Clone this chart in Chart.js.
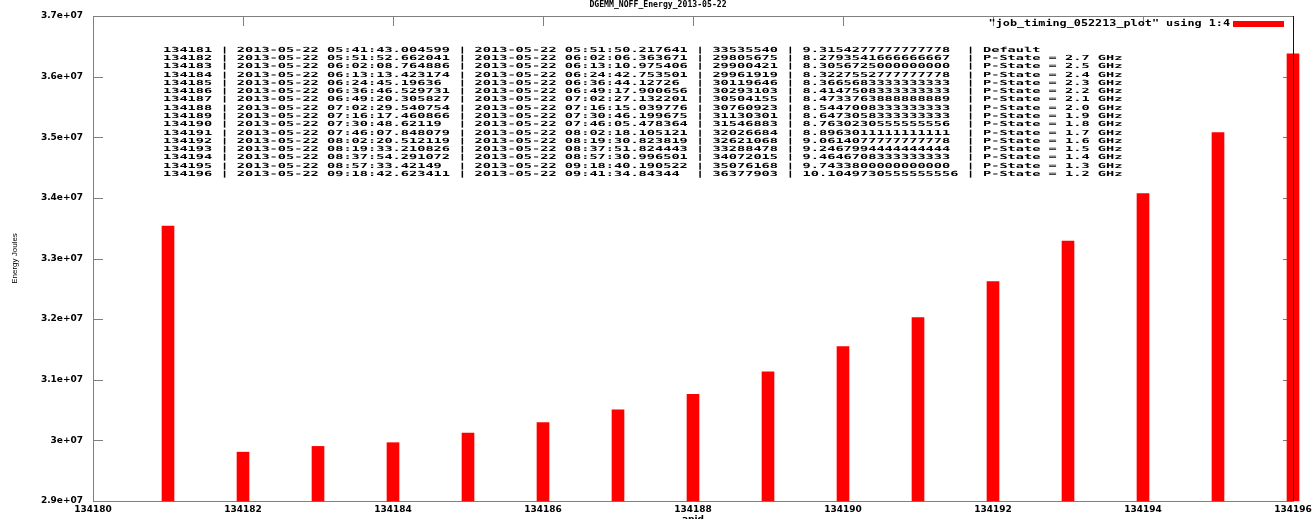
<!DOCTYPE html>
<html>
<head>
<meta charset="utf-8">
<title>DGEMM_NOFF_Energy_2013-05-22</title>
<script src="https://cdn.jsdelivr.net/npm/chart.js@4"></script>
<style>
  html, body { margin: 0; padding: 0; background: #fff; }
  #wrap { width: 1316px; height: 519px; }
</style>
</head>
<body>
<div id="wrap"><canvas id="energyChart"></canvas></div>
<script>
const apids = [134181, 134182, 134183, 134184, 134185, 134186, 134187, 134188,
               134189, 134190, 134191, 134192, 134193, 134194, 134195, 134196];
const energyJoules = [33535540, 29805675, 29900421, 29961919, 30119646, 30293103, 30504155, 30760923,
                      31130301, 31546883, 32026684, 32621068, 33288478, 34072015, 35076168, 36377903];
const startTimes = ['05:41:43.004599', '05:51:52.662041', '06:02:08.764886', '06:13:13.423174',
                    '06:24:45.19636', '06:36:46.529731', '06:49:20.305827', '07:02:29.540754',
                    '07:16:17.460866', '07:30:48.62119', '07:46:07.848079', '08:02:20.512119',
                    '08:19:33.210826', '08:37:54.291072', '08:57:33.42149', '09:18:42.623411'];
const endTimes = ['05:51:50.217641', '06:02:06.363671', '06:13:10.975406', '06:24:42.753501',
                  '06:36:44.12726', '06:49:17.900656', '07:02:27.132201', '07:16:15.039776',
                  '07:30:46.199675', '07:46:05.478364', '08:02:18.105121', '08:19:30.823819',
                  '08:37:51.824443', '08:57:30.996501', '09:18:40.190522', '09:41:34.84344'];
const avgValues = ['9.3154277777777778', '8.2793541666666667', '8.3056725000000000', '8.3227552777777778',
                   '8.3665683333333333', '8.4147508333333333', '8.4733763888888889', '8.5447008333333333',
                   '8.6473058333333333', '8.7630230555555556', '8.8963011111111111', '9.0614077777777778',
                   '9.2467994444444444', '9.4646708333333333', '9.7433800000000000', '10.1049730555555556'];
const pStates = ['Default', 'P-State = 2.7 GHz', 'P-State = 2.5 GHz', 'P-State = 2.4 GHz',
                 'P-State = 2.3 GHz', 'P-State = 2.2 GHz', 'P-State = 2.1 GHz', 'P-State = 2.0 GHz',
                 'P-State = 1.9 GHz', 'P-State = 1.8 GHz', 'P-State = 1.7 GHz', 'P-State = 1.6 GHz',
                 'P-State = 1.5 GHz', 'P-State = 1.4 GHz', 'P-State = 1.3 GHz', 'P-State = 1.2 GHz'];
const runDate = '2013-05-22';
const xTickLabels = ['134180', '134182', '134184', '134186', '134188', '134190', '134192', '134194', '134196'];
const yTickLabels = ['2.9e+07', '3e+07', '3.1e+07', '3.2e+07', '3.3e+07', '3.4e+07', '3.5e+07', '3.6e+07', '3.7e+07'];
const chartTitle = 'DGEMM_NOFF_Energy_2013-05-22';
const legendLabel = '"job_timing_052213_plot" using 1:4';

const yMin = 29000000;
const yMax = 37000000;
const frameColor = '#7f7f7f';
const monoFont = '"DejaVu Sans Mono", "Liberation Mono", monospace';

// table rows, laid out like the psql output pasted into the plot
const tableRows = apids.map((id, i) =>
    String(id) + ' | ' +
    (runDate + ' ' + startTimes[i]).padEnd(26) + ' | ' +
    (runDate + ' ' + endTimes[i]).padEnd(26) + ' | ' +
    String(energyJoules[i]).padEnd(8) + ' | ' +
    avgValues[i].padEnd(19) + ' | ' + pStates[i]
);

// draws text stretched so each char takes charW pixels (gnuplot's wide bitmap font)
function wideText(ctx, text, x, y, charW, align) {
    const w = ctx.measureText('0').width;
    const sx = charW / w;
    ctx.save();
    ctx.translate(x, y);
    ctx.scale(sx, 1);
    ctx.textAlign = align || 'left';
    ctx.fillText(text, 0, 0);
    ctx.restore();
}

const gnuplotFrame = {
    id: 'gnuplotFrame',
    beforeDatasetsDraw(chart) {
        const { ctx, chartArea: a, scales: { x, y } } = chart;
        ctx.save();
        ctx.strokeStyle = frameColor;
        ctx.lineWidth = 1;
        ctx.beginPath();
        ctx.rect(a.left + 0.5, a.top + 0.5, a.right - a.left, a.bottom - a.top);
        // inward tick marks on all four sides
        y.ticks.forEach(t => {
            const py = Math.round(y.getPixelForValue(t.value)) + 0.5;
            ctx.moveTo(a.left, py); ctx.lineTo(a.left + 10, py);
            ctx.moveTo(a.right, py); ctx.lineTo(a.right - 10, py);
        });
        x.ticks.forEach(t => {
            const px = Math.round(x.getPixelForValue(t.value)) + 0.5;
            ctx.moveTo(px, a.top); ctx.lineTo(px, a.top + 10);
            ctx.moveTo(px, a.bottom); ctx.lineTo(px, a.bottom - 10);
        });
        ctx.stroke();
        ctx.restore();
    },
    afterDatasetsDraw(chart) {
        const { ctx, chartArea: a } = chart;
        ctx.save();
        ctx.strokeStyle = '#400000';
        ctx.beginPath();
        ctx.moveTo(a.right + 0.5, a.top);
        ctx.lineTo(a.right + 0.5, a.bottom);
        ctx.stroke();

        ctx.fillStyle = '#000';
        ctx.textBaseline = 'middle';

        // title
        ctx.font = 'bold 8px ' + monoFont;
        wideText(ctx, chartTitle, chart.width / 2, 5, 4.9, 'center');

        // key
        wideText(ctx, legendLabel, 1230, 24, 7.1, 'right');
        ctx.fillStyle = chart.data.datasets[0].backgroundColor;
        ctx.fillRect(1233, 21, 51, 6);

        // data table
        ctx.fillStyle = '#000';
        ctx.font = 'bold 7px ' + monoFont;
        tableRows.forEach((row, i) => {
            wideText(ctx, row, 163, 50 + i * 8.27, 8.2, 'left');
        });
        ctx.restore();
    }
};

const ctx = document.getElementById('energyChart');

new Chart(ctx, {
    type: 'bar',
    data: {
        datasets: [{
            label: legendLabel,
            data: apids.map((id, i) => ({ x: id, y: energyJoules[i] })),
            backgroundColor: '#ff0000',
            borderWidth: 0,
            barThickness: 12,
            base: yMin,
            clip: false
        }]
    },
    options: {
        responsive: true,
        maintainAspectRatio: false,
        animation: false,
        layout: { padding: { top: 16, right: 23, left: 0, bottom: 0 } },
        plugins: {
            legend: { display: false },
            tooltip: { enabled: false },
            title: { display: false }
        },
        scales: {
            x: {
                type: 'linear',
                min: 134180,
                max: 134196,
                offset: false,
                grid: { display: false, drawTicks: false, offset: false },
                border: { display: false },
                ticks: {
                    stepSize: 2,
                    padding: 3,
                    color: '#000',
                    font: { family: '"DejaVu Sans"', size: 9, weight: 'bold' },
                    maxRotation: 0,
                    callback: (v) => xTickLabels[(v - 134180) / 2]
                },
                title: {
                    display: true,
                    text: 'apid',
                    color: '#000',
                    font: { family: '"DejaVu Sans"', size: 9, weight: 'bold' },
                    padding: { top: 0, bottom: -6 }
                },
                afterFit: (s) => { s.height = 18; }
            },
            y: {
                min: yMin,
                max: yMax,
                beginAtZero: false,
                grid: { display: false, drawTicks: false },
                border: { display: false },
                ticks: {
                    stepSize: 1000000,
                    padding: 10,
                    color: '#000',
                    font: { family: '"DejaVu Sans"', size: 9, weight: 'bold' },
                    callback: (v) => yTickLabels[Math.round((v - yMin) / 1000000)]
                },
                title: {
                    display: true,
                    text: 'Energy Joules',
                    color: '#000',
                    font: { family: '"Liberation Sans"', size: 8 },
                    padding: { top: 10, bottom: 0 }
                },
                afterFit: (s) => { s.width = 93; }
            }
        }
    },
    plugins: [gnuplotFrame]
});
</script>
</body>
</html>
